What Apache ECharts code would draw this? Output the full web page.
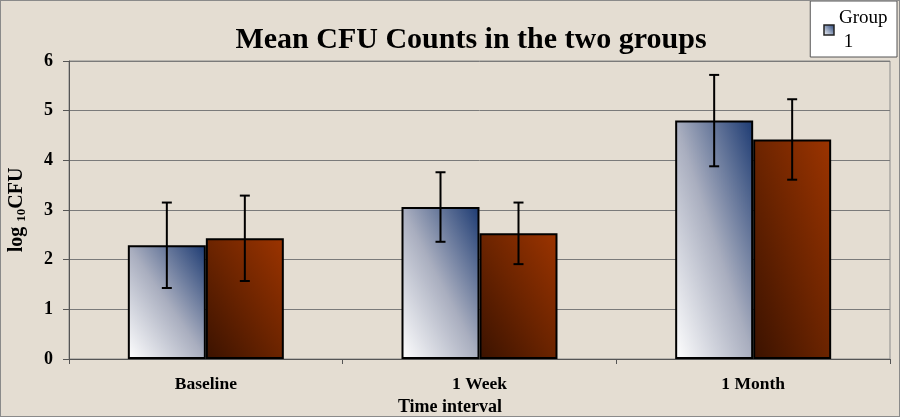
<!DOCTYPE html>
<html>
<head>
<meta charset="utf-8">
<script src="https://cdn.jsdelivr.net/npm/echarts@6/dist/echarts.min.js"></script>
<style>
html,body{margin:0;padding:0;background:#e4ddd2;}
#c{width:900px;height:417px;box-sizing:border-box;border:1px solid #8a8a8a;}
</style>
</head>
<body>
<div id="c"></div>
<script>
var categories = ['Baseline', '1 Week', '1 Month'];
var group1Mean = [2.29, 3.06, 4.80];
var group1Err = [0.86, 0.70, 0.92];
var group2Mean = [2.43, 2.53, 4.42];
var group2Err = [0.86, 0.62, 0.81];
var yTicks = [0, 1, 2, 3, 4, 5, 6];

var chart = echarts.init(document.getElementById('c'));
var serif = '"Liberation Serif", "Times New Roman", serif';
var barGapRatio = 0.43;

var stops1 = [
  { offset: 0, color: '#ffffff' },
  { offset: 0.5, color: '#a9aebf' },
  { offset: 1, color: '#1c3a72' }
];
var stops2 = [
  { offset: 0, color: '#3a1200' },
  { offset: 0.5, color: '#6c2400' },
  { offset: 1, color: '#9c3400' }
];

function errData(means, errs) {
  return means.map(function (m, i) { return [i, m - errs[i], m + errs[i]]; });
}

function errRender(side) {
  return function (params, api) {
    var idx = api.value(0);
    var bandW = api.size([1, 0])[0];
    var barW = bandW * (1 - barGapRatio) / 2;
    var lo = api.coord([idx, api.value(1)]);
    var hi = api.coord([idx, api.value(2)]);
    var x = lo[0] + side * barW / 2;
    var cap = 5;
    var st = { stroke: '#000', lineWidth: 2 };
    return {
      type: 'group',
      children: [
        { type: 'line', shape: { x1: x, y1: lo[1], x2: x, y2: hi[1] }, style: st },
        { type: 'line', shape: { x1: x - cap, y1: lo[1], x2: x + cap, y2: lo[1] }, style: st },
        { type: 'line', shape: { x1: x - cap, y1: hi[1], x2: x + cap, y2: hi[1] }, style: st }
      ]
    };
  };
}

var legendGrad = new echarts.graphic.LinearGradient(0, 1, 1, 0, [
  { offset: 0, color: '#ffffff' },
  { offset: 1, color: '#1c3a72' }
]);

chart.setOption({
  animation: false,
  backgroundColor: '#e4ddd2',
  title: {
    text: 'Mean CFU Counts in the two groups',
    left: 465,
    top: 19,
    textAlign: 'center',
    textStyle: { fontFamily: serif, fontWeight: 'bold', fontSize: 30, color: '#000' }
  },
  legend: {
    data: [{ name: 'Group 1', icon: 'rect', itemStyle: { color: legendGrad, borderColor: '#222', borderWidth: 1.5 } }],
    right: 2,
    top: 0,
    orient: 'vertical',
    backgroundColor: '#ffffff',
    borderColor: '#555',
    borderWidth: 1,
    borderRadius: 0,
    padding: [5, 8, 3, 13],
    itemWidth: 10,
    itemHeight: 10,
    itemGap: 4,
    textStyle: { fontFamily: serif, fontSize: 19, color: '#000', width: 50, overflow: 'break', lineHeight: 24 }
  },
  grid: { left: 68, right: 9, top: 60, bottom: 57, containLabel: false, outerBoundsMode: 'none',
          show: true, borderColor: '#8a8a8a', borderWidth: 1, backgroundColor: 'transparent' },
  xAxis: {
    type: 'category',
    data: categories,
    name: 'Time interval',
    nameLocation: 'middle',
    nameGap: 33,
    nameTextStyle: { fontFamily: serif, fontWeight: 'bold', fontSize: 18, color: '#000', padding: [0, 59, 0, 0] },
    axisLine: { lineStyle: { color: '#555', width: 1 } },
    axisTick: { show: true, length: 5, lineStyle: { color: '#555' } },
    axisLabel: { fontFamily: serif, fontWeight: 'bold', fontSize: 17.5, color: '#000', margin: 16 }
  },
  yAxis: {
    type: 'value',
    min: 0,
    max: 6,
    interval: 1,
    name: '{a|log }{b|10}{a|CFU}',
    nameLocation: 'middle',
    nameGap: 41,
    nameRotate: 90,
    nameTextStyle: {
      rich: {
        a: { fontFamily: serif, fontWeight: 'bold', fontSize: 20, color: '#000' },
        b: { fontFamily: serif, fontWeight: 'bold', fontSize: 13, color: '#000', padding: [9, 0, 0, 0] }
      }
    },
    axisLine: { show: true, lineStyle: { color: '#555', width: 1 } },
    axisTick: { show: true, length: 6, lineStyle: { color: '#555' } },
    splitLine: { lineStyle: { color: '#7a7a7a', width: 1 } },
    axisLabel: {
      fontFamily: serif, fontWeight: 'bold', fontSize: 18, color: '#000', margin: 16,
      formatter: function (v) { return yTicks.indexOf(v) >= 0 ? String(v) : ''; }
    }
  },
  series: [
    {
      name: 'Group 1', type: 'bar', data: group1Mean,
      barGap: '0%', barCategoryGap: '43%',
      itemStyle: { color: '#a9aebf', borderColor: '#000', borderWidth: 2 }
    },
    {
      name: 'Group 2', type: 'bar', data: group2Mean,
      barGap: '0%', barCategoryGap: '43%',
      itemStyle: { color: '#6c2400', borderColor: '#000', borderWidth: 2 }
    },
    {
      name: 'err1', type: 'custom', renderItem: errRender(-1),
      data: errData(group1Mean, group1Err), z: 10, silent: true,
      encode: { x: 0, y: [1, 2] }
    },
    {
      name: 'err2', type: 'custom', renderItem: errRender(1),
      data: errData(group2Mean, group2Err), z: 10, silent: true,
      encode: { x: 0, y: [1, 2] }
    }
  ]
});

// Diagonal gradient (bottom-left -> top-right) whose mid line runs through the
// top-left and bottom-right corners, computed from each bar's pixel size.
function diagGrad(value, stops) {
  var base = chart.convertToPixel({ gridIndex: 0 }, [0, 0]);
  var top = chart.convertToPixel({ gridIndex: 0 }, [0, value]);
  var next = chart.convertToPixel({ gridIndex: 0 }, [1, 0]);
  var h = Math.abs(base[1] - top[1]);
  var w = Math.abs(next[0] - base[0]) * (1 - barGapRatio) / 2;
  var s = h * h + w * w;
  var dx = 2 * h * h / s;
  var dy = 2 * w * w / s;
  return new echarts.graphic.LinearGradient(0, 1, dx, 1 - dy, stops);
}

chart.setOption({
  series: [
    { name: 'Group 1', data: group1Mean.map(function (v) { return { value: v, itemStyle: { color: diagGrad(v, stops1) } }; }) },
    { name: 'Group 2', data: group2Mean.map(function (v) { return { value: v, itemStyle: { color: diagGrad(v, stops2) } }; }) }
  ]
});
</script>
</body>
</html>
